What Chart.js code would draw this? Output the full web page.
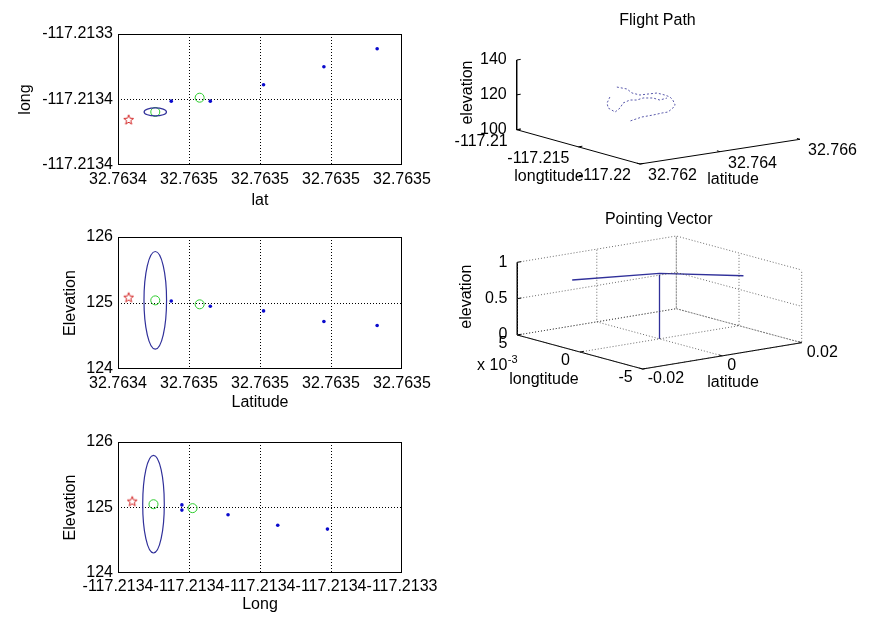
<!DOCTYPE html>
<html>
<head>
<meta charset="utf-8">
<script src="https://cdn.jsdelivr.net/npm/chart.js@4.4.0/dist/chart.umd.min.js"></script>
<style>
  body { margin: 0; background: #fff; width: 873px; height: 617px; position: relative; overflow: hidden; }
  canvas { position: absolute; }
</style>
</head>
<body>
<canvas id="fp" style="left:420px;top:0" width="453" height="200"></canvas>
<canvas id="pv" style="left:420px;top:200px" width="453" height="200"></canvas>
<canvas id="p1" style="left:0;top:0" width="445" height="210"></canvas>
<canvas id="p2" style="left:0;top:210px" width="445" height="205"></canvas>
<canvas id="p3" style="left:0;top:415px" width="445" height="202"></canvas>
<script>
// tick values of the 2D panels
const latTicks = [32.76344, 32.76346, 32.76348, 32.7635, 32.76352];
const longTicksTop = [-117.21342, -117.21338, -117.21334];
const longTicksBottom = [-117.21342, -117.2134, -117.21338, -117.21336, -117.21334];
const elevTicks = [124, 125, 126];

// top panel: lat / long
const dotLat = [32.763455, 32.763466, 32.763481, 32.763498, 32.763513];
const dotLongTop = [-117.213381, -117.213381, -117.213371, -117.21336, -117.213349];
const circLat = [32.7634505, 32.763463];
const circLongTop = [-117.2133876, -117.2133789];
const starLat = [32.763443];
const starLongTop = [-117.2133925];
const ellipseTop = [32.7634505, -117.2133876, 0.00000315, 0.00000244]; // centre x, centre y, radius x, radius y

// middle panel: lat / elevation
const dotElevMid = [125.03, 124.95, 124.88, 124.72, 124.66];
const circElevMid = [125.04, 124.98];
const starElevMid = [125.08];
const ellipseMid = [32.7634505, 125.04, 0.00000318, 0.74];

// bottom panel: long / elevation
const dotLongBot = [-117.213402, -117.213402, -117.213389, -117.213375, -117.213361];
const dotElevBot = [125.04, 124.96, 124.89, 124.73, 124.67];
const circLongBot = [-117.21341, -117.213399];
const circElevBot = [125.05, 124.99];
const starLongBot = [-117.213416];
const starElevBot = [125.09];
const ellipseBot = [-117.21341, 125.05, 0.00000304, 0.745];

// flight path (3D)
const fpLongTicks = [-117.22, -117.215, -117.21];
const fpLatTicks = [32.762, 32.764, 32.766];
const fpElevTicks = [100, 120, 140];
const trackALong = [-117.21209, -117.21275, -117.21364, -117.21425, -117.2143, -117.21437, -117.21498, -117.21549,
  -117.21614, -117.21714, -117.21764, -117.21825, -117.21826, -117.21838, -117.21843, -117.21884];
const trackALat = [32.76386, 32.76391, 32.76376, 32.76377, 32.76396, 32.76416, 32.76417, 32.76414,
  32.76401, 32.76376, 32.76355, 32.76324, 32.76309, 32.76283, 32.76253, 32.76211];
const trackAElev = [122, 122, 122, 122, 122, 122, 122, 122, 122, 122, 122, 122, 122, 122, 122, 122];
const trackBLong = [-117.21376, -117.2148, -117.21576, -117.21672, -117.21611, -117.21526,
  -117.2149, -117.2151, -117.2149, -117.21519, -117.21577, -117.2156];
const trackBLat = [32.76317, 32.76278, 32.76251, 32.76239, 32.7627, 32.76304,
  32.76332, 32.76343, 32.76365, 32.76381, 32.7638, 32.76403];
const trackBElev = [122, 122, 122, 122, 122, 122, 122, 122, 122, 122, 122, 122];

// pointing vector (3D)
const pvLongTicks = [-0.005, 0, 0.005];
const pvLatTicks = [-0.02, 0, 0.02];
const pvElevTicks = [0, 0.5, 1];
const upLong = [0, 0];
const upLat = [0, 0];
const upElev = [0, 0.88];
const sweepLong = [0.0017, 0, -0.0027];
const sweepLat = [-0.0166, 0, 0.0126];
const sweepElev = [0.88, 0.9, 0.88];

const FONT = '"Liberation Sans", Arial, Helvetica, sans-serif';
const BLUE = '#0a0acc';
const NAVY = '#30309a';
const GREEN = '#2ccc2c';
const RED = '#d42a2a';

Chart.defaults.font.family = FONT;
Chart.defaults.font.size = 16;
Chart.defaults.color = '#000';

// pentagram marker (MATLAB 'p')
function pentagram() {
  const c = document.createElement('canvas');
  c.width = c.height = 14;
  const g = c.getContext('2d');
  g.strokeStyle = RED;
  g.lineWidth = 1;
  g.beginPath();
  for (let i = 0; i < 10; i++) {
    const r = i % 2 ? 2.2 : 5.2;
    const a = -Math.PI / 2 + i * Math.PI / 5;
    g.lineTo(7 + r * Math.cos(a), 7 + r * Math.sin(a));
  }
  g.closePath();
  g.stroke();
  return c;
}
const STAR = pentagram();

const pairs = (xs, ys) => xs.map((x, i) => ({ x, y: ys[i] }));

const boxPlugin = {
  id: 'box',
  beforeDatasetsDraw(chart) {
    const { left, top, right, bottom } = chart.chartArea;
    const ctx = chart.ctx;
    ctx.save();
    ctx.strokeStyle = '#000';
    ctx.lineWidth = 1;
    ctx.strokeRect(Math.round(left) + 0.5, Math.round(top) + 0.5, Math.round(right - left) - 1, Math.round(bottom - top) - 1);
    ctx.restore();
  }
};

// error ellipse drawn through the chart scales
function ellipsePlugin(e) {
  return {
    id: 'ellipse',
    afterDatasetsDraw(chart) {
      const { x, y } = chart.scales;
      const cx = x.getPixelForValue(e[0]);
      const cy = y.getPixelForValue(e[1]);
      const rx = Math.abs(x.getPixelForValue(e[0] + e[2]) - cx);
      const ry = Math.abs(y.getPixelForValue(e[1] + e[3]) - cy);
      const ctx = chart.ctx;
      ctx.save();
      ctx.strokeStyle = NAVY;
      ctx.lineWidth = 1.2;
      ctx.beginPath();
      ctx.ellipse(cx, cy, rx, ry, 0, 0, Math.PI * 2);
      ctx.stroke();
      ctx.restore();
    }
  };
}

function axis2d(ticks, fmt, title, o) {
  return {
    type: 'linear',
    min: ticks[0],
    max: ticks[ticks.length - 1],
    afterBuildTicks: s => { s.ticks = ticks.map(v => ({ value: v })); },
    ticks: { autoSkip: false, maxRotation: 0, minRotation: 0, padding: o.tickPad, callback: v => fmt(v) },
    grid: {
      drawTicks: false,
      lineWidth: 1,
      color: c => (c.index > 0 && c.index < ticks.length - 1) ? '#000' : 'rgba(0,0,0,0)'
    },
    border: { display: false, dash: [1, 2] },
    title: { display: true, text: title, padding: o.titlePad },
    afterFit: o.fit
  };
}

const fmtDeg = v => v.toFixed(4);
const fmtElev = v => String(v);

function panel(id, p) {
  new Chart(document.getElementById(id), {
    type: 'scatter',
    data: {
      datasets: [
        { data: pairs(p.dots[0], p.dots[1]), pointStyle: 'circle', pointRadius: 1.8, backgroundColor: BLUE, borderColor: BLUE, borderWidth: 0 },
        { data: pairs(p.circ[0], p.circ[1]), pointStyle: 'circle', pointRadius: 4.5, backgroundColor: 'rgba(0,0,0,0)', borderColor: GREEN, borderWidth: 1 },
        { data: pairs(p.star[0], p.star[1]), pointStyle: STAR, pointRadius: 5 }
      ]
    },
    options: {
      responsive: false,
      animation: false,
      events: [],
      layout: { padding: { top: p.top, right: 43, left: 0, bottom: 0 } },
      scales: {
        x: axis2d(p.xTicks, p.xFmt, p.xTitle, { tickPad: p.xTickPad, titlePad: { top: 0, bottom: p.xTitlePad }, fit: s => { s.height = p.xHeight; } }),
        y: axis2d(p.yTicks, p.yFmt, p.yTitle, { tickPad: 5, titlePad: { top: p.yTitlePad, bottom: 0 }, fit: s => { s.width = 118; } })
      },
      plugins: { legend: { display: false }, tooltip: { enabled: false } }
    },
    plugins: [boxPlugin, ellipsePlugin(p.ellipse)]
  });
}

panel('p1', {
  dots: [dotLat, dotLongTop], circ: [circLat, circLongTop], star: [starLat, starLongTop], ellipse: ellipseTop,
  xTicks: latTicks, xFmt: fmtDeg, xTitle: 'lat', yTicks: longTicksTop, yFmt: fmtDeg, yTitle: 'long',
  top: 34, xHeight: 45, xTickPad: 5, xTitlePad: 0, yTitlePad: 16
});
panel('p2', {
  dots: [dotLat, dotElevMid], circ: [circLat, circElevMid], star: [starLat, starElevMid], ellipse: ellipseMid,
  xTicks: latTicks, xFmt: fmtDeg, xTitle: 'Latitude', yTicks: elevTicks, yFmt: fmtElev, yTitle: 'Elevation',
  top: 27, xHeight: 46, xTickPad: 5, xTitlePad: 3, yTitlePad: 61
});
panel('p3', {
  dots: [dotLongBot, dotElevBot], circ: [circLongBot, circElevBot], star: [starLongBot, starElevBot], ellipse: ellipseBot,
  xTicks: longTicksBottom, xFmt: fmtDeg, xTitle: 'Long', yTicks: elevTicks, yFmt: fmtElev, yTitle: 'Elevation',
  top: 27, xHeight: 44, xTickPad: 4, xTitlePad: 3, yTitlePad: 61
});

// ---- 3D panels: orthographic view, each axis maps onto a screen vector ----
function project(view, lo, la, el) {
  const u = (lo - view.long[0]) / (view.long[1] - view.long[0]);
  const v = (la - view.lat[0]) / (view.lat[1] - view.lat[0]);
  const w = (el - view.elev[0]) / (view.elev[1] - view.elev[0]);
  return {
    x: view.origin[0] + u * view.uVec[0] + v * view.vVec[0] + w * view.wVec[0],
    y: view.origin[1] + u * view.uVec[1] + v * view.vVec[1] + w * view.wVec[1]
  };
}

const line3d = (pts, color, width, dash) => ({
  data: pts, showLine: true, pointRadius: 0, borderColor: color, borderWidth: width, borderDash: dash || [], fill: false, clip: false
});

function axesSets(view, grid) {
  const [lo0, lo1] = view.long, [la0, la1] = view.lat, [el0, el1] = view.elev;
  const P = (a, b, c) => project(view, a, b, c);
  const sets = [];
  if (grid) {
    const gc = 'rgba(60,60,60,0.75)';
    view.elevT.forEach(t => sets.push(line3d([P(lo1, la0, t), P(lo1, la1, t), P(lo0, la1, t)], gc, 1, [1, 2])));
    view.latT.forEach(t => sets.push(line3d([P(lo0, t, el0), P(lo1, t, el0), P(lo1, t, el1)], gc, 1, [1, 2])));
    view.longT.forEach(t => sets.push(line3d([P(t, la0, el0), P(t, la1, el0), P(t, la1, el1)], gc, 1, [1, 2])));
  }
  sets.push(line3d([P(lo1, la0, el1), P(lo1, la0, el0), P(lo0, la0, el0), P(lo0, la1, el0)], '#000', 1));
  const tl = 0.025;
  view.elevT.forEach(t => sets.push(line3d([P(lo1, la0, t), P(lo1, la0 + tl * (la1 - la0), t)], '#000', 1)));
  view.longT.forEach(t => sets.push(line3d([P(t, la0, el0), P(t, la0 + tl * (la1 - la0), el0)], '#000', 1)));
  view.latT.forEach(t => sets.push(line3d([P(lo0, t, el0), P(lo0 + tl * (lo1 - lo0), t, el0)], '#000', 1)));
  return sets;
}

function axesLabels(view, fmtLong, fmtLat, fmtElev3) {
  const [lo0, lo1] = view.long, [la0] = view.lat, [el0] = view.elev;
  const out = [];
  view.elevT.forEach(t => out.push({ text: fmtElev3(t), at: project(view, lo1, la0, t), dx: -10, dy: 0, align: 'right' }));
  view.longT.forEach(t => out.push({ text: fmtLong(t), at: project(view, t, la0, el0), dx: view.longOff[0], dy: view.longOff[1], align: 'right' }));
  view.latT.forEach(t => out.push({ text: fmtLat(t), at: project(view, lo0, t, el0), dx: view.latOff[0], dy: view.latOff[1], align: 'left' }));
  return out;
}

// tick labels and titles of a 3D panel; "at" points go through the chart scales
function labelPlugin(items) {
  return {
    id: 'labels3d',
    afterDatasetsDraw(chart) {
      const { x, y } = chart.scales;
      const ctx = chart.ctx;
      ctx.save();
      ctx.fillStyle = '#000';
      ctx.textBaseline = 'middle';
      items.forEach(l => {
        ctx.font = (l.size || 16) + 'px ' + FONT;
        ctx.textAlign = l.align || 'center';
        const px = l.at ? x.getPixelForValue(l.at.x) + l.dx : l.px;
        const py = l.at ? y.getPixelForValue(l.at.y) + l.dy : l.py;
        if (l.rot) {
          ctx.save();
          ctx.translate(px, py);
          ctx.rotate(l.rot);
          ctx.fillText(l.text, 0, 0);
          ctx.restore();
        } else {
          ctx.fillText(l.text, px, py);
        }
      });
      ctx.restore();
    }
  };
}

function chart3d(id, datasets, items) {
  const cv = document.getElementById(id);
  new Chart(cv, {
    type: 'scatter',
    data: { datasets },
    options: {
      responsive: false,
      animation: false,
      events: [],
      layout: { padding: 0 },
      scales: {
        x: { type: 'linear', display: false, min: 0, max: cv.width },
        y: { type: 'linear', display: false, min: 0, max: cv.height, reverse: true }
      },
      plugins: { legend: { display: false }, tooltip: { enabled: false } }
    },
    plugins: [labelPlugin(items)]
  });
}

const fpView = {
  long: [fpLongTicks[0], fpLongTicks[2]], lat: [fpLatTicks[0], fpLatTicks[2]], elev: [fpElevTicks[0], fpElevTicks[2]],
  longT: fpLongTicks, latT: fpLatTicks, elevT: fpElevTicks,
  origin: [220, 164], uVec: [-123.3, -34.3], vVec: [160, -24.7], wVec: [0, -69.7],
  longOff: [-9, 12], latOff: [8, 11.5]
};
const pvView = {
  long: [pvLongTicks[0], pvLongTicks[2]], lat: [pvLatTicks[0], pvLatTicks[2]], elev: [pvElevTicks[0], pvElevTicks[2]],
  longT: pvLongTicks, latT: pvLatTicks, elevT: pvElevTicks,
  origin: [222.7, 169], uVec: [-125.4, -34], vVec: [159, -26.3], wVec: [0, -72.7],
  longOff: [-10, 9], latOff: [5, 10]
};

const path3d = (view, lo, la, el) => lo.map((v, i) => project(view, v, la[i], el[i]));

chart3d('fp', [
  ...axesSets(fpView, false),
  line3d(path3d(fpView, trackALong, trackALat, trackAElev), 'rgba(48,48,150,0.8)', 1, [2, 2]),
  line3d(path3d(fpView, trackBLong, trackBLat, trackBElev), 'rgba(48,48,150,0.8)', 1, [2, 2])
], [
  ...axesLabels(fpView, v => String(v), v => String(v), v => String(v)),
  { text: 'Flight Path', px: 237.5, py: 21 },
  { text: 'elevation', px: 47.5, py: 92.5, rot: -Math.PI / 2 },
  { text: 'longtitude', px: 129, py: 176.5 },
  { text: 'latitude', px: 313, py: 180 }
]);

chart3d('pv', [
  ...axesSets(pvView, true),
  line3d(path3d(pvView, upLong, upLat, upElev), NAVY, 1.3),
  line3d(path3d(pvView, sweepLong, sweepLat, sweepElev), NAVY, 1.3)
], [
  ...axesLabels(pvView, v => String(Math.round(v * 1000)), v => String(v), v => String(v)),
  { text: 'Pointing Vector', px: 238.7, py: 20 },
  { text: 'elevation', px: 46.7, py: 96.7, rot: -Math.PI / 2 },
  { text: 'longtitude', px: 124, py: 180 },
  { text: 'latitude', px: 313, py: 183 },
  { text: 'x 10', px: 87.3, py: 166, align: 'right' },
  { text: '-3', px: 87.8, py: 160, align: 'left', size: 11 }
]);
</script>
</body>
</html>
